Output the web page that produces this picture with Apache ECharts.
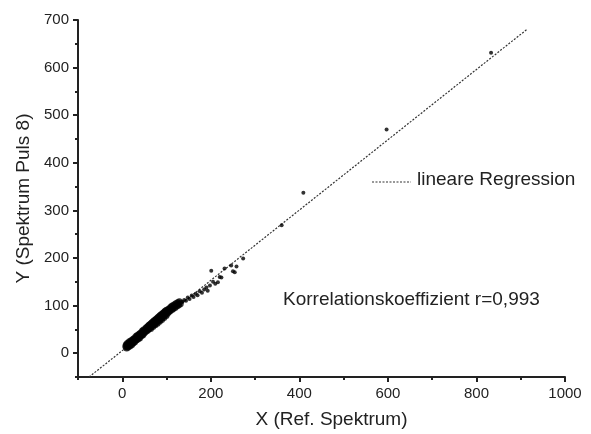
<!DOCTYPE html>
<html>
<head>
<meta charset="utf-8">
<script src="https://cdn.jsdelivr.net/npm/echarts@6/dist/echarts.min.js"></script>
<style>
  html, body { margin: 0; padding: 0; background: #fff; }
  #chart { width: 591px; height: 434px; }
</style>
</head>
<body>
<div id="chart"></div>
<script>
// tick values
var xTicks = [0, 200, 400, 600, 800, 1000]
var xMinor = [-100, 100, 300, 500, 700, 900]
var yTicks = [0, 100, 200, 300, 400, 500, 600, 700]
var yMinor = [-50, 50, 150, 250, 350, 450, 550, 650]

// dense cluster of measured points (x = Ref. Spektrum, y = Spektrum Puls 8)
var clusterPoints = [
  [8, 14], [9, 18], [10, 11], [11, 17], [12, 21], [13, 13], [14, 19], [15, 16],
  [16, 24], [17, 15], [18, 22], [19, 20], [20, 26], [21, 18], [22, 25], [23, 21],
  [24, 29], [25, 22], [26, 27], [27, 31], [28, 24], [29, 30], [30, 27], [31, 35],
  [32, 28], [33, 33], [34, 37], [35, 30], [36, 36], [37, 33], [38, 40], [39, 32],
  [40, 38], [41, 42], [42, 36], [43, 41], [44, 39], [45, 46], [46, 38], [47, 44],
  [48, 49], [49, 42], [50, 47], [52, 45], [53, 52], [54, 47], [55, 54], [56, 50],
  [57, 48], [58, 56], [59, 51], [60, 58], [61, 53], [62, 60], [63, 55], [64, 52],
  [65, 62], [66, 57], [67, 64], [68, 59], [69, 56], [70, 66], [71, 61], [72, 68],
  [73, 63], [74, 60], [75, 70], [76, 65], [77, 72], [78, 67], [79, 63], [80, 74],
  [81, 69], [82, 76], [83, 71], [84, 67], [85, 78], [86, 73], [87, 80], [88, 75],
  [89, 71], [90, 82], [91, 77], [92, 84], [93, 79], [94, 75], [95, 86], [96, 81],
  [97, 88], [98, 83], [99, 79], [100, 90], [102, 84], [104, 92], [105, 87], [107, 94],
  [108, 89], [110, 97], [112, 92], [113, 99], [115, 94], [117, 101], [119, 96], [121, 104],
  [123, 99], [125, 106], [127, 101], [129, 108], [131, 104]
]

// sparser points and outliers
var sparsePoints = [
  [136, 108], [140, 112], [144, 110], [148, 117], [152, 114], [157, 121], [161, 118],
  [166, 125], [170, 122], [175, 130], [180, 127], [185, 134], [190, 138], [193, 131],
  [198, 142], [201, 173], [205, 150], [210, 146], [216, 149], [220, 160], [224, 159],
  [231, 178], [246, 184], [250, 172], [254, 170], [258, 182], [273, 199], [360, 269],
  [409, 337], [597, 470], [833, 631]
]

// end points of the linear regression line
var regLine = [[-75, -50], [915, 681]]

var font = 'Liberation Sans, Arial, sans-serif'
var ink = '#222'
var plain = function (v) { return String(v) }

var chart = echarts.init(document.getElementById('chart'))

var baseX = {
  type: 'value', min: -100, max: 1000,
  splitLine: { show: false }
}
var baseY = {
  type: 'value', min: -50, max: 700,
  splitLine: { show: false }
}

var option = {
  animation: false,
  grid: { left: 78, right: 26, top: 20, bottom: 54 },
  xAxis: [
    Object.assign({}, baseX, {
      position: 'bottom',
      name: 'X (Ref. Spektrum)',
      nameLocation: 'middle',
      nameGap: 33,
      nameTextStyle: { fontFamily: font, fontSize: 19, color: ink, padding: [0, 0, 0, 20] },
      axisLine: { show: true, onZero: false, lineStyle: { color: ink, width: 2 } },
      axisTick: { show: true, length: 5, lineStyle: { color: ink, width: 2 }, customValues: xTicks },
      axisLabel: { fontFamily: font, fontSize: 15, color: ink, margin: 9, customValues: xTicks, formatter: plain }
    }),
    Object.assign({}, baseX, {
      position: 'bottom',
      axisLine: { show: false, onZero: false },
      axisTick: { show: true, length: 3, lineStyle: { color: ink, width: 2 }, customValues: xMinor },
      axisLabel: { show: false }
    })
  ],
  yAxis: [
    Object.assign({}, baseY, {
      position: 'left',
      name: 'Y (Spektrum Puls 8)',
      nameLocation: 'middle',
      nameGap: 45,
      nameTextStyle: { fontFamily: font, fontSize: 19, color: ink },
      axisLine: { show: true, onZero: false, lineStyle: { color: ink, width: 2 } },
      axisTick: { show: true, length: 5, lineStyle: { color: ink, width: 2 }, customValues: yTicks },
      axisLabel: { fontFamily: font, fontSize: 15, color: ink, margin: 9, customValues: yTicks, formatter: plain }
    }),
    Object.assign({}, baseY, {
      position: 'left',
      axisLine: { show: false, onZero: false },
      axisTick: { show: true, length: 3, lineStyle: { color: ink, width: 2 }, customValues: yMinor },
      axisLabel: { show: false }
    })
  ],
  series: [
    {
      name: 'lineare Regression',
      type: 'line',
      xAxisIndex: 0, yAxisIndex: 0,
      data: regLine,
      symbol: 'none',
      lineStyle: { color: '#333', width: 1.2, type: [2, 1.5] },
      z: 1
    },
    {
      type: 'scatter',
      xAxisIndex: 0, yAxisIndex: 0,
      data: clusterPoints,
      symbolSize: 7,
      itemStyle: { color: '#000' },
      z: 2
    },
    {
      type: 'scatter',
      xAxisIndex: 0, yAxisIndex: 0,
      data: sparsePoints,
      symbolSize: 4,
      itemStyle: { color: '#000' },
      z: 2
    }
  ],
  graphic: [
    {
      type: 'line',
      shape: { x1: 372, y1: 182, x2: 411, y2: 182 },
      style: { stroke: '#333', lineWidth: 1.2, lineDash: [2, 1.5] }
    },
    {
      type: 'text',
      left: 417, top: 170,
      style: { text: 'lineare Regression', font: '19px ' + font, fill: ink }
    },
    {
      type: 'text',
      left: 283, top: 290,
      style: { text: 'Korrelationskoeffizient r=0,993', font: '19px ' + font, fill: ink }
    }
  ]
}

chart.setOption(option)
</script>
</body>
</html>
